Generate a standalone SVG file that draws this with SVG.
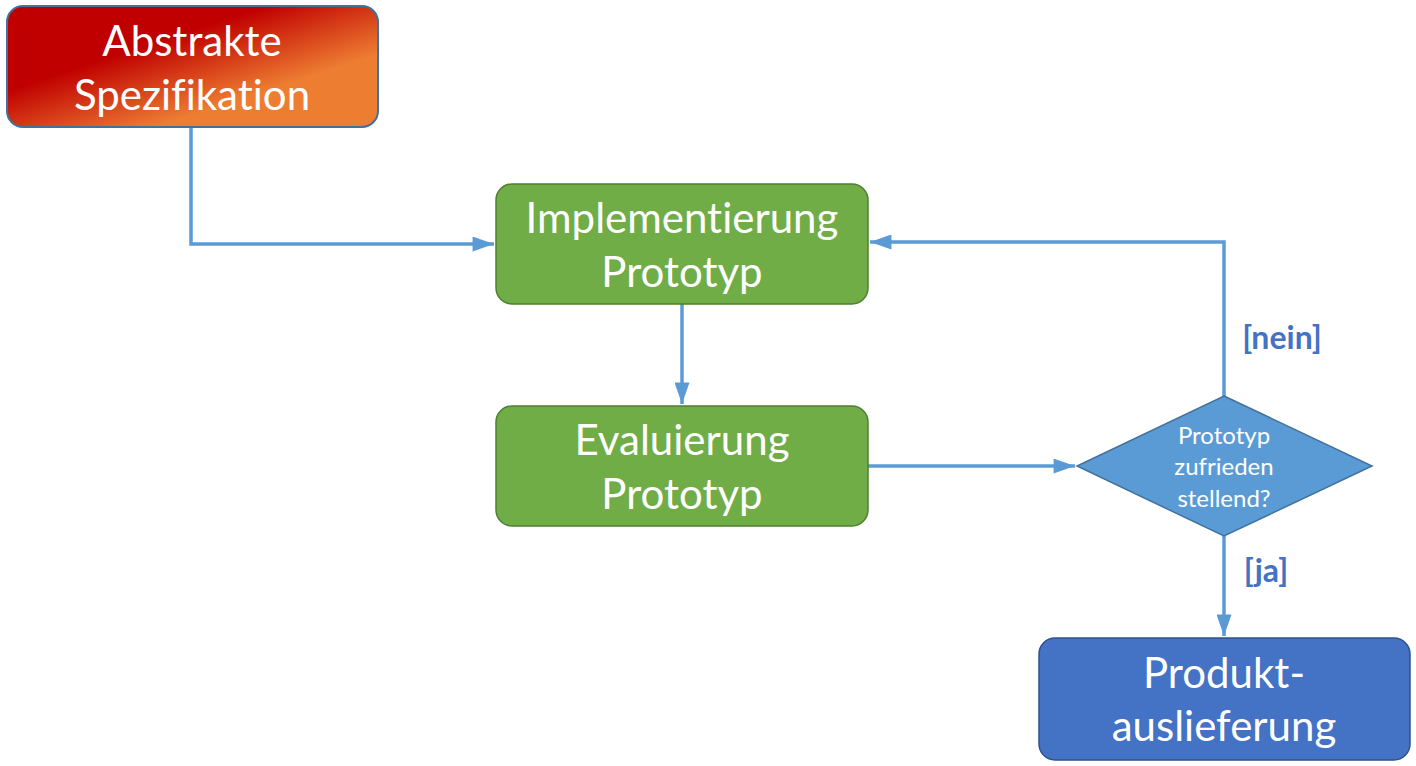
<svg xmlns="http://www.w3.org/2000/svg" width="1416" height="766" viewBox="0 0 1416 766">
<defs>
<linearGradient id="gRed" x1="0" y1="0" x2="1" y2="1">
<stop offset="0" stop-color="#c00000"/>
<stop offset="0.35" stop-color="#c00000"/>
<stop offset="0.7" stop-color="#ed7d31"/>
<stop offset="1" stop-color="#ed7d31"/>
</linearGradient>
<marker id="ah" viewBox="0 0 20 14" refX="20" refY="7" markerWidth="22" markerHeight="15" markerUnits="userSpaceOnUse" orient="auto">
<path d="M0,0 L20,7 L0,14 z" fill="#5b9bd5"/>
</marker>
</defs>
<style>
.lbl{font-family:Lato,"Open Sans","Liberation Sans",sans-serif;fill:#ffffff;text-anchor:middle;font-variant-ligatures:none}
.big{font-size:42px}
.small{font-size:24px}
.cond{font-family:Lato,"Open Sans","Liberation Sans",sans-serif;font-weight:bold;font-size:32px;fill:#4472c4;text-anchor:middle}
.con{fill:none;stroke:#5b9bd5;stroke-width:3.5}
.green{fill:#70ad47;stroke:#507e32;stroke-width:1.5}
</style>
<g id="connectors">
<polyline class="con" points="191,127 191,244 494,244" marker-end="url(#ah)"/>
<polyline class="con" points="682,304 682,404" marker-end="url(#ah)"/>
<polyline class="con" points="868,466 1075,466" marker-end="url(#ah)"/>
<polyline class="con" points="1224,396 1224,242 870,242" marker-end="url(#ah)"/>
<polyline class="con" points="1224,536 1224,636" marker-end="url(#ah)"/>
<text class="cond" x="1282" y="349">[nein]</text>
<text class="cond" x="1266" y="582">[ja]</text>
</g>
<g id="abstrakte">
<rect x="7" y="6" width="371" height="121" rx="16" fill="url(#gRed)" stroke="#41719c" stroke-width="2"/>
<text class="lbl big" x="192" y="56">Abstrakte</text>
<text class="lbl big" x="192" y="110">Spezifikation</text>
</g>
<g id="implementierung">
<rect class="green" x="496" y="184" width="372" height="120" rx="16"/>
<text class="lbl big" x="682" y="233">Implementierung</text>
<text class="lbl big" x="682" y="287">Prototyp</text>
</g>
<g id="evaluierung">
<rect class="green" x="496" y="406" width="372" height="120" rx="16"/>
<text class="lbl big" x="682" y="455">Evaluierung</text>
<text class="lbl big" x="682" y="509">Prototyp</text>
</g>
<g id="entscheidung">
<polygon points="1224,396 1372,466 1224,536 1077,466" fill="#5b9bd5" stroke="#41719c" stroke-width="1.5"/>
<text class="lbl small" x="1224" y="444">Prototyp</text>
<text class="lbl small" x="1224" y="475">zufrieden</text>
<text class="lbl small" x="1224" y="507">stellend?</text>
</g>
<g id="produkt">
<rect x="1039" y="638" width="371" height="122" rx="16" fill="#4472c4" stroke="#2f528f" stroke-width="1.5"/>
<text class="lbl big" x="1224" y="688">Produkt-</text>
<text class="lbl big" x="1224" y="741">auslieferung</text>
</g>
</svg>
